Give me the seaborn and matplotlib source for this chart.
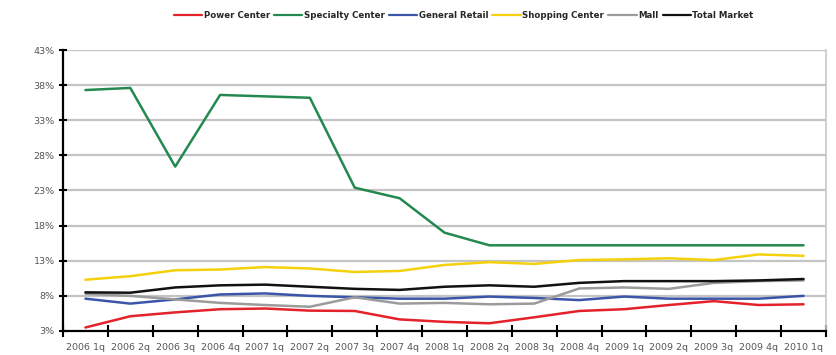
import numpy as np
import pandas as pd
import matplotlib
matplotlib.use("Agg")
import matplotlib.pyplot as plt
import seaborn as sns

quarters = ["2006 1q", "2006 2q", "2006 3q", "2006 4q", "2007 1q", "2007 2q", "2007 3q",
            "2007 4q", "2008 1q", "2008 2q", "2008 3q", "2008 4q", "2009 1q", "2009 2q",
            "2009 3q", "2009 4q", "2010 1q"]

power_center = [3.5, 5.1, 5.65, 6.1, 6.2, 5.9, 5.85, 4.65, 4.3, 4.1, 4.95, 5.85, 6.1, 6.7, 7.25, 6.7, 6.8]
specialty_center = [37.3, 37.6, 26.4, 36.6, 36.4, 36.2, 23.4, 21.9, 17.0, 15.2, 15.2, 15.2, 15.2, 15.2, 15.2, 15.2, 15.2]
general_retail = [7.6, 6.9, 7.5, 8.2, 8.35, 8.0, 7.8, 7.6, 7.6, 7.9, 7.7, 7.4, 7.9, 7.6, 7.6, 7.6, 8.0]
shopping_center = [10.3, 10.8, 11.65, 11.75, 12.1, 11.9, 11.4, 11.55, 12.4, 12.8, 12.55, 13.1, 13.2, 13.35, 13.1, 13.9, 13.7]
mall = [8.3, 8.0, 7.5, 7.0, 6.7, 6.45, 7.8, 6.9, 7.0, 6.8, 6.9, 9.05, 9.2, 9.0, 9.85, 10.1, 10.2]
total_market = [8.5, 8.45, 9.2, 9.5, 9.6, 9.3, 9.0, 8.85, 9.3, 9.5, 9.3, 9.85, 10.1, 10.1, 10.1, 10.2, 10.4]

series_names = ["Power Center", "Specialty Center", "General Retail", "Shopping Center", "Mall", "Total Market"]
series_values = [power_center, specialty_center, general_retail, shopping_center, mall, total_market]
colors = ["#e4222c", "#23894f", "#3b56a8", "#f4d10c", "#9b9b9b", "#111111"]

y_ticks = [3, 8, 13, 18, 23, 28, 33, 38, 43]

rows = []
for name, vals in zip(series_names, series_values):
    for i, v in enumerate(vals):
        rows.append({"idx": i, "value": v, "series": name})
df = pd.DataFrame(rows)

sns.set_theme(style="white")
plt.rcParams['font.family'] = ['DejaVu Sans']

fig = plt.figure(figsize=(8.37, 3.55), dpi=100)
ax = fig.add_axes([63/837, 1 - 331/355, (826 - 63)/837, (331 - 50)/355])

for y in y_ticks[1:]:
    ax.axhline(y, color="#c4c4c4", lw=1.6, zorder=0)

sns.lineplot(data=df, x="idx", y="value", hue="series", hue_order=series_names,
             palette=dict(zip(series_names, colors)), linewidth=1.8, ax=ax, legend=True)

ax.set_xlim(-0.5, len(quarters) - 0.5)
ax.set_ylim(3, 43)
ax.set_xticks(range(len(quarters)))
ax.set_xticklabels(quarters, fontsize=6.8, color="#555555")
ax.set_xticks(np.arange(-0.5, len(quarters), 1.0), minor=True)
ax.tick_params(axis="x", which="major", bottom=True, length=0, pad=9)
ax.tick_params(axis="x", which="minor", bottom=True, direction="inout", length=8, width=1.5, color="black")
ax.set_yticks(y_ticks)
ax.set_yticklabels([f"{t}%" for t in y_ticks], fontsize=6.8, color="#555555")
ax.tick_params(axis="y", left=True, direction="inout", length=6, width=1.5, color="black", pad=3)
ax.set_xlabel("")
ax.set_ylabel("")

ax.spines["top"].set_visible(False)
ax.spines["right"].set_color("#c8c8c8")
ax.spines["right"].set_linewidth(1.2)
ax.spines["left"].set_color("black")
ax.spines["left"].set_linewidth(1.6)
ax.spines["bottom"].set_color("black")
ax.spines["bottom"].set_linewidth(1.6)

handles, labels = ax.get_legend_handles_labels()
ax.legend_.remove()
leg = fig.legend(handles, labels, loc="center", bbox_to_anchor=(0.554, 0.957), ncol=6,
                 frameon=False, handlelength=3.3, handletextpad=0.15,
                 columnspacing=0.5, prop={"weight": "bold", "size": 6.2})
for line in leg.get_lines():
    line.set_linewidth(1.6)

fig.savefig("out.png", dpi=100)
